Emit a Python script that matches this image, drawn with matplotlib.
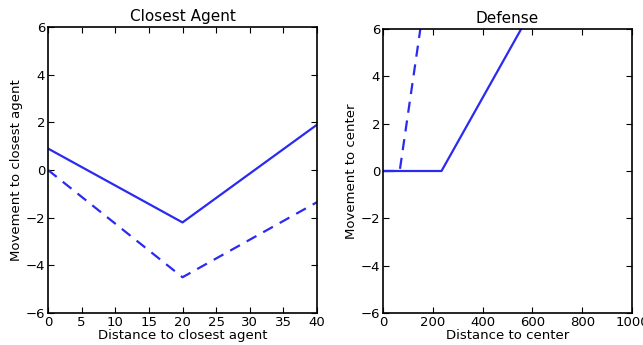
import numpy as np
import matplotlib
matplotlib.use("Agg")
import matplotlib.pyplot as plt

# data
agent_x = [0, 20, 40]
agent_solid = [0.9, -2.2, 1.9]
agent_dashed = [0.0, -4.5, -1.35]

center_solid_x = [0, 235, 555]
center_solid_y = [0, 0, 6]
center_dashed_x = [0, 67, 150]
center_dashed_y = [0, 0, 6]

plt.rcParams['font.family'] = 'DejaVu Sans'
plt.rcParams['font.size'] = 9.5

fig = plt.figure(figsize=(6.43, 3.45), dpi=100)
ax1 = fig.add_axes([48/643, 1-313/345, (317-48)/643, (313-27)/345])
ax2 = fig.add_axes([383/643, 1-313/345, (632-383)/643, (313-29)/345])

col = '#2a2af0'
ax1.plot(agent_x, agent_solid, '-', color=col, lw=1.6)
ax1.plot(agent_x, agent_dashed, '--', color=col, lw=1.6, dashes=(5, 3.5))
ax1.set_xlim(0, 40)
ax1.set_ylim(-6, 6)
ax1.set_xticks(np.arange(0, 41, 5))
ax1.set_yticks(np.arange(-6, 7, 2))
ax1.set_title('Closest Agent', fontsize=11, pad=4)
ax1.set_xlabel('Distance to closest agent', labelpad=0)
ax1.set_ylabel('Movement to closest agent', labelpad=2)

ax2.plot(center_solid_x, center_solid_y, '-', color=col, lw=1.6)
ax2.plot(center_dashed_x, center_dashed_y, '--', color=col, lw=1.6, dashes=(5, 3.5))
ax2.set_xlim(0, 1000)
ax2.set_ylim(-6, 6)
ax2.set_xticks(np.arange(0, 1001, 200))
ax2.set_yticks(np.arange(-6, 7, 2))
ax2.set_title('Defense', fontsize=11, pad=4)
ax2.set_xlabel('Distance to center', labelpad=0)
ax2.set_ylabel('Movement to center', labelpad=2)

for ax in (ax1, ax2):
    ax.tick_params(direction='in', top=True, right=True, length=4, pad=2)
    for s in ax.spines.values():
        s.set_linewidth(1.2)

fig.savefig('out.png', dpi=100)
